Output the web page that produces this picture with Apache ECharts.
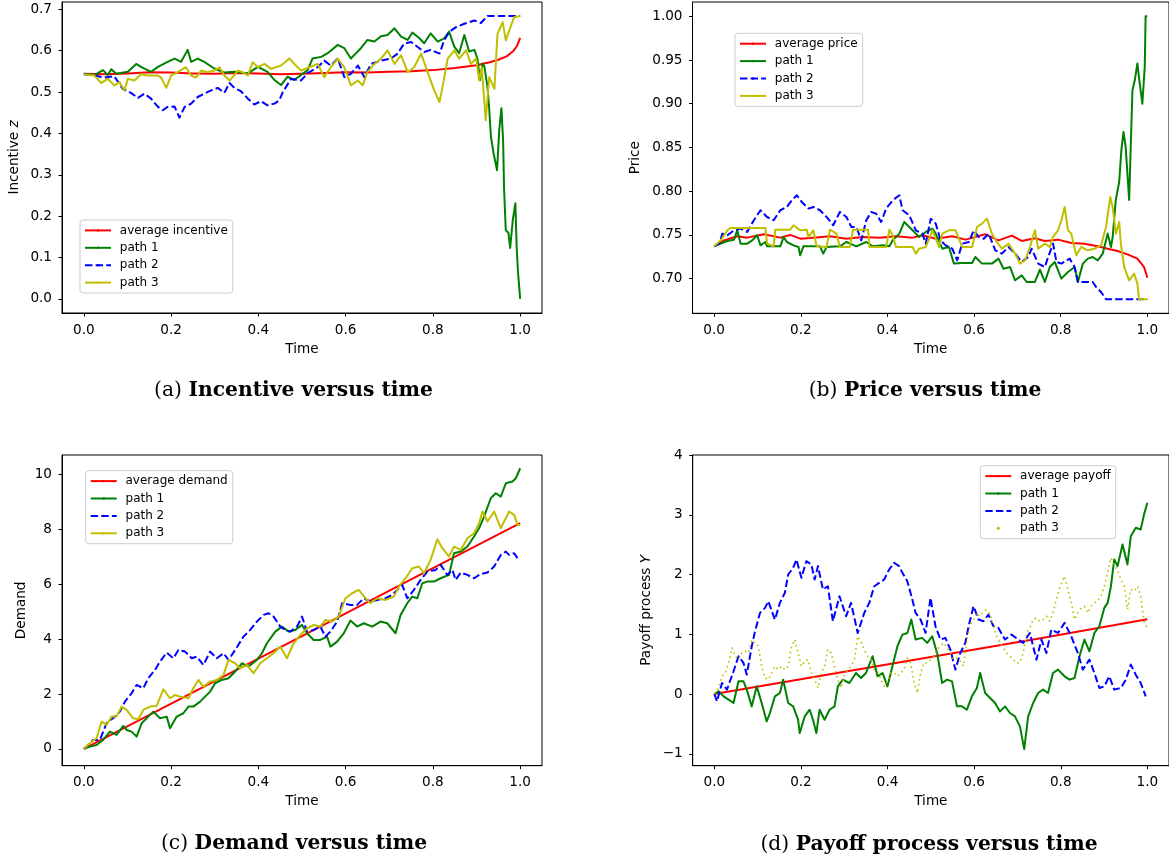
<!DOCTYPE html>
<html><head><meta charset="utf-8">
<script src="https://cdn.jsdelivr.net/npm/echarts@6.0.0/dist/echarts.min.js"></script>
<style>html,body{margin:0;padding:0;background:#fff}#chart{width:1169px;height:860px}</style>
</head><body><div id="chart"></div>
<script>
// ---------- tick labels ----------
const xTicks = [0, 0.2, 0.4, 0.6, 0.8, 1.0];
const yTicksA = [0, 0.1, 0.2, 0.3, 0.4, 0.5, 0.6, 0.7];
const yTicksB = [0.70, 0.75, 0.80, 0.85, 0.90, 0.95, 1.00];
const yTicksC = [0, 2, 4, 6, 8, 10];
const yTicksD = [-1, 0, 1, 2, 3, 4];

// ---------- legend labels / captions ----------
const labelsA = ['average incentive', 'path 1', 'path 2', 'path 3'];
const labelsB = ['average price', 'path 1', 'path 2', 'path 3'];
const labelsC = ['average demand', 'path 1', 'path 2', 'path 3'];
const labelsD = ['average payoff', 'path 1', 'path 2', 'path 3'];
const captionTags = ['(a)', '(b)', '(c)', '(d)'];
const captionTexts = ['Incentive versus time', 'Price versus time', 'Demand versus time', 'Payoff process versus time'];

// ---------- (a) incentive ----------
const tA0 = [0, 0.05, 0.1, 0.15, 0.2, 0.25, 0.3, 0.35, 0.4, 0.45, 0.5, 0.55, 0.6, 0.65, 0.7, 0.75, 0.8, 0.85, 0.9, 0.93, 0.95, 0.97, 0.985, 0.993, 1.0];
const vA0 = [0.544, 0.543, 0.545, 0.548, 0.547, 0.545, 0.544, 0.546, 0.545, 0.543, 0.544, 0.546, 0.548, 0.547, 0.549, 0.550, 0.553, 0.558, 0.565, 0.572, 0.578, 0.587, 0.600, 0.612, 0.631];
const tA1 = [0, 0.024, 0.044, 0.055, 0.063, 0.074, 0.101, 0.120, 0.131, 0.154, 0.170, 0.192, 0.208, 0.223, 0.238, 0.246, 0.261, 0.276, 0.299, 0.322, 0.345, 0.376, 0.399, 0.421, 0.437, 0.452, 0.467, 0.482, 0.513, 0.524, 0.544, 0.559, 0.582, 0.597, 0.612, 0.624, 0.635, 0.650, 0.666, 0.681, 0.696, 0.712, 0.727, 0.742, 0.753, 0.769, 0.780, 0.795, 0.811, 0.826, 0.837, 0.849, 0.860, 0.872, 0.883, 0.895, 0.902, 0.908, 0.914, 0.918, 0.925, 0.929, 0.933, 0.939, 0.947, 0.952, 0.957, 0.961, 0.963, 0.967, 0.973, 0.977, 0.983, 0.989, 0.992, 0.995, 1.0];
const vA1 = [0.544, 0.541, 0.553, 0.541, 0.555, 0.544, 0.549, 0.568, 0.561, 0.549, 0.561, 0.573, 0.581, 0.573, 0.602, 0.573, 0.581, 0.573, 0.557, 0.547, 0.549, 0.545, 0.561, 0.549, 0.529, 0.517, 0.537, 0.529, 0.553, 0.581, 0.585, 0.594, 0.614, 0.606, 0.581, 0.594, 0.606, 0.626, 0.622, 0.635, 0.638, 0.654, 0.634, 0.626, 0.644, 0.630, 0.618, 0.642, 0.622, 0.630, 0.646, 0.610, 0.594, 0.638, 0.598, 0.602, 0.581, 0.529, 0.569, 0.561, 0.513, 0.460, 0.392, 0.352, 0.311, 0.408, 0.461, 0.380, 0.268, 0.166, 0.160, 0.123, 0.190, 0.231, 0.123, 0.065, 0.0];
const tA2 = [0, 0.024, 0.047, 0.070, 0.089, 0.108, 0.124, 0.139, 0.154, 0.170, 0.181, 0.192, 0.208, 0.219, 0.231, 0.246, 0.261, 0.276, 0.292, 0.307, 0.322, 0.334, 0.345, 0.360, 0.376, 0.391, 0.406, 0.421, 0.437, 0.448, 0.456, 0.475, 0.498, 0.513, 0.536, 0.551, 0.566, 0.582, 0.597, 0.612, 0.628, 0.643, 0.658, 0.681, 0.704, 0.719, 0.734, 0.750, 0.765, 0.780, 0.795, 0.815, 0.826, 0.837, 0.853, 0.872, 0.895, 0.910, 0.925, 1.0];
const vA2 = [0.543, 0.540, 0.535, 0.538, 0.508, 0.498, 0.486, 0.496, 0.484, 0.464, 0.456, 0.464, 0.465, 0.438, 0.464, 0.472, 0.488, 0.496, 0.504, 0.510, 0.498, 0.522, 0.510, 0.502, 0.484, 0.470, 0.478, 0.468, 0.472, 0.480, 0.500, 0.532, 0.528, 0.546, 0.560, 0.576, 0.564, 0.581, 0.536, 0.544, 0.564, 0.536, 0.568, 0.576, 0.581, 0.593, 0.617, 0.621, 0.609, 0.597, 0.602, 0.593, 0.625, 0.645, 0.657, 0.665, 0.673, 0.667, 0.684, 0.684];
const tA3 = [0, 0.024, 0.040, 0.055, 0.070, 0.082, 0.093, 0.101, 0.116, 0.131, 0.147, 0.170, 0.177, 0.189, 0.200, 0.215, 0.234, 0.246, 0.257, 0.269, 0.284, 0.299, 0.311, 0.322, 0.334, 0.341, 0.353, 0.364, 0.376, 0.387, 0.399, 0.414, 0.429, 0.452, 0.471, 0.486, 0.498, 0.517, 0.536, 0.551, 0.566, 0.582, 0.597, 0.612, 0.628, 0.639, 0.650, 0.666, 0.681, 0.696, 0.712, 0.727, 0.742, 0.757, 0.773, 0.788, 0.803, 0.815, 0.822, 0.834, 0.849, 0.860, 0.876, 0.887, 0.899, 0.906, 0.912, 0.921, 0.929, 0.941, 0.948, 0.960, 0.967, 0.979, 0.986, 1.0];
const vA3 = [0.543, 0.540, 0.522, 0.532, 0.516, 0.524, 0.504, 0.532, 0.528, 0.543, 0.540, 0.540, 0.535, 0.510, 0.540, 0.548, 0.560, 0.540, 0.535, 0.552, 0.548, 0.552, 0.560, 0.540, 0.528, 0.536, 0.552, 0.548, 0.540, 0.572, 0.560, 0.568, 0.556, 0.564, 0.581, 0.564, 0.552, 0.560, 0.568, 0.536, 0.560, 0.581, 0.560, 0.516, 0.528, 0.516, 0.548, 0.568, 0.581, 0.601, 0.568, 0.589, 0.548, 0.560, 0.593, 0.548, 0.504, 0.476, 0.512, 0.581, 0.601, 0.581, 0.601, 0.568, 0.581, 0.528, 0.560, 0.432, 0.536, 0.508, 0.641, 0.669, 0.625, 0.661, 0.681, 0.684];

// ---------- (b) price ----------
const tB0 = [0, 0.0229, 0.0534, 0.0763, 0.1145, 0.1527, 0.1756, 0.1985, 0.229, 0.2672, 0.3053, 0.3435, 0.3817, 0.4198, 0.458, 0.4809, 0.5115, 0.5496, 0.5802, 0.626, 0.6565, 0.687, 0.71, 0.7405, 0.7634, 0.7939, 0.8244, 0.855, 0.8855, 0.9084, 0.9313, 0.9542, 0.9771, 0.9924, 1.0];
const vB0 = [0.737, 0.7438, 0.7484, 0.7469, 0.7507, 0.7469, 0.750, 0.7457, 0.7469, 0.7484, 0.7457, 0.7477, 0.7469, 0.7484, 0.7469, 0.7496, 0.7457, 0.7484, 0.7446, 0.7507, 0.7438, 0.7492, 0.7431, 0.7461, 0.7431, 0.7446, 0.7408, 0.740, 0.737, 0.7343, 0.7316, 0.7278, 0.7229, 0.7133, 0.7011];
const tB1 = [0, 0.0153, 0.0305, 0.0458, 0.0534, 0.0611, 0.0763, 0.0878, 0.0992, 0.1069, 0.1183, 0.1221, 0.1527, 0.1603, 0.1679, 0.1832, 0.1947, 0.1985, 0.2061, 0.2443, 0.2519, 0.2595, 0.2901, 0.3053, 0.3282, 0.3511, 0.3664, 0.3893, 0.4046, 0.4122, 0.4275, 0.4389, 0.4504, 0.458, 0.4733, 0.4885, 0.5038, 0.5115, 0.5267, 0.542, 0.5534, 0.5725, 0.5954, 0.603, 0.6183, 0.6412, 0.6565, 0.6679, 0.6832, 0.6947, 0.71, 0.7214, 0.7405, 0.7519, 0.7634, 0.7748, 0.7863, 0.8015, 0.8168, 0.8321, 0.8397, 0.8511, 0.8626, 0.874, 0.8855, 0.897, 0.9084, 0.916, 0.920, 0.927, 0.935, 0.940, 0.945, 0.950, 0.954, 0.958, 0.9656, 0.971, 0.977, 0.982, 0.9885, 0.994, 0.996, 1.0];
const vB1 = [0.737, 0.740, 0.7431, 0.7446, 0.7553, 0.740, 0.740, 0.7438, 0.7496, 0.7381, 0.7419, 0.737, 0.737, 0.7477, 0.7419, 0.7381, 0.7362, 0.7267, 0.737, 0.737, 0.7286, 0.7362, 0.737, 0.7419, 0.737, 0.7419, 0.737, 0.7381, 0.737, 0.7438, 0.7515, 0.7648, 0.7591, 0.7553, 0.7477, 0.7534, 0.7572, 0.7515, 0.7343, 0.7362, 0.7172, 0.7179, 0.7179, 0.7248, 0.7172, 0.7172, 0.7229, 0.7114, 0.7133, 0.6981, 0.7038, 0.6962, 0.6962, 0.7103, 0.6962, 0.7133, 0.7191, 0.700, 0.7076, 0.7133, 0.6962, 0.7172, 0.7229, 0.7248, 0.721, 0.7286, 0.7515, 0.7362, 0.7476, 0.7895, 0.8105, 0.8467, 0.8677, 0.8506, 0.820, 0.790, 0.9153, 0.9268, 0.946, 0.925, 0.900, 0.942, 1.0, 1.0];
const tB2 = [0, 0.0115, 0.0191, 0.0305, 0.0458, 0.0611, 0.0763, 0.0916, 0.1069, 0.1221, 0.1374, 0.1527, 0.1679, 0.1794, 0.1908, 0.2023, 0.2176, 0.229, 0.2443, 0.2595, 0.2748, 0.2901, 0.3053, 0.3168, 0.3282, 0.3397, 0.3511, 0.3626, 0.374, 0.3855, 0.3969, 0.4122, 0.4275, 0.4351, 0.4504, 0.4656, 0.4809, 0.4885, 0.5, 0.5115, 0.5229, 0.5344, 0.5496, 0.5611, 0.5725, 0.5878, 0.5992, 0.6107, 0.6221, 0.6336, 0.6489, 0.6641, 0.6794, 0.6947, 0.71, 0.7252, 0.7328, 0.7481, 0.7634, 0.771, 0.7824, 0.7901, 0.8015, 0.8206, 0.8321, 0.8397, 0.874, 0.8817, 0.8931, 0.9046, 1.0];
const vB2 = [0.737, 0.740, 0.7515, 0.7496, 0.7553, 0.7572, 0.7534, 0.7667, 0.7782, 0.7705, 0.7667, 0.7782, 0.782, 0.7896, 0.7953, 0.7877, 0.7801, 0.782, 0.7782, 0.7705, 0.761, 0.7762, 0.7705, 0.7591, 0.7591, 0.7438, 0.7667, 0.7762, 0.7743, 0.7648, 0.7801, 0.7896, 0.7953, 0.7782, 0.7724, 0.7553, 0.7515, 0.740, 0.7686, 0.7629, 0.7438, 0.7381, 0.7343, 0.721, 0.740, 0.7419, 0.7553, 0.7477, 0.7457, 0.7515, 0.7324, 0.7286, 0.7362, 0.7286, 0.7191, 0.7248, 0.7343, 0.7172, 0.7133, 0.7248, 0.740, 0.7191, 0.7172, 0.7229, 0.7133, 0.6962, 0.6962, 0.6905, 0.6848, 0.6764, 0.6764];
const tB3 = [0, 0.0153, 0.0305, 0.0382, 0.1183, 0.1221, 0.1374, 0.1412, 0.1756, 0.1832, 0.1985, 0.2137, 0.2176, 0.229, 0.2366, 0.2595, 0.2672, 0.2824, 0.2901, 0.313, 0.3206, 0.355, 0.3588, 0.3969, 0.4046, 0.4122, 0.4198, 0.458, 0.4656, 0.4733, 0.4885, 0.5038, 0.5191, 0.5267, 0.542, 0.5573, 0.5725, 0.5954, 0.6069, 0.6183, 0.6298, 0.6412, 0.6527, 0.6641, 0.6794, 0.6947, 0.7061, 0.7176, 0.729, 0.7405, 0.7481, 0.7634, 0.7748, 0.7824, 0.7939, 0.8015, 0.8092, 0.8168, 0.8244, 0.8359, 0.8473, 0.8626, 0.8779, 0.8931, 0.9046, 0.9145, 0.9198, 0.9275, 0.9351, 0.9389, 0.9466, 0.958, 0.9695, 0.9771, 0.9809, 1.0];
const vB3 = [0.737, 0.7438, 0.7553, 0.758, 0.758, 0.740, 0.737, 0.756, 0.756, 0.761, 0.7553, 0.756, 0.7477, 0.7553, 0.737, 0.7362, 0.756, 0.7515, 0.7362, 0.7362, 0.756, 0.756, 0.7362, 0.7362, 0.756, 0.7496, 0.7362, 0.7362, 0.7286, 0.7343, 0.7362, 0.7553, 0.7362, 0.7515, 0.7553, 0.7553, 0.7362, 0.7362, 0.7591, 0.7629, 0.7686, 0.7515, 0.7419, 0.7343, 0.740, 0.7286, 0.7172, 0.721, 0.7362, 0.7553, 0.7343, 0.740, 0.7362, 0.7477, 0.7553, 0.7667, 0.782, 0.7553, 0.7515, 0.7267, 0.7362, 0.7324, 0.7343, 0.7381, 0.7591, 0.7934, 0.782, 0.7515, 0.7648, 0.740, 0.7133, 0.6981, 0.7057, 0.6943, 0.6764, 0.6764];

// ---------- (c) demand ----------
const tC0 = [0, 0.25, 0.5, 0.75, 1.0];
const vC0 = [0, 2.06, 4.11, 6.17, 8.22];
const tC1 = [0, 0.0138, 0.0291, 0.0444, 0.0597, 0.075, 0.0904, 0.098, 0.1095, 0.121, 0.1325, 0.1478, 0.1593, 0.1746, 0.1899, 0.1975, 0.2129, 0.2282, 0.2397, 0.2511, 0.2665, 0.2779, 0.2894, 0.3009, 0.3162, 0.3315, 0.3469, 0.3622, 0.3775, 0.3966, 0.4081, 0.4196, 0.4387, 0.4541, 0.4694, 0.4847, 0.5, 0.5115, 0.5268, 0.5421, 0.5574, 0.5651, 0.5804, 0.5957, 0.611, 0.6263, 0.6417, 0.6608, 0.6799, 0.6953, 0.7144, 0.7259, 0.7412, 0.7527, 0.7642, 0.7757, 0.7871, 0.8025, 0.8178, 0.8369, 0.8484, 0.8637, 0.879, 0.8943, 0.9058, 0.9173, 0.9326, 0.9441, 0.9556, 0.9671, 0.9824, 0.99, 1.0];
const vC1 = [0, 0.085, 0.146, 0.328, 0.631, 0.51, 0.837, 0.692, 0.631, 0.449, 0.934, 1.177, 1.359, 1.117, 1.177, 0.752, 1.177, 1.299, 1.541, 1.541, 1.723, 1.905, 2.087, 2.391, 2.512, 2.573, 2.816, 3.119, 2.998, 3.24, 3.483, 3.847, 4.272, 4.454, 4.272, 4.333, 4.515, 4.211, 3.968, 3.968, 4.09, 3.726, 3.908, 4.211, 4.672, 4.454, 4.575, 4.454, 4.636, 4.575, 4.211, 4.879, 5.303, 5.546, 5.485, 6.032, 6.092, 6.092, 6.214, 6.335, 7.124, 7.184, 7.367, 7.731, 8.034, 8.459, 9.126, 9.308, 9.187, 9.672, 9.733, 9.854, 10.218];
const tC2 = [0, 0.01, 0.0214, 0.0368, 0.0521, 0.0712, 0.0827, 0.0942, 0.1095, 0.121, 0.1363, 0.1478, 0.1631, 0.1746, 0.1899, 0.2052, 0.2167, 0.232, 0.2473, 0.2588, 0.2741, 0.2894, 0.3047, 0.3201, 0.3315, 0.3469, 0.366, 0.3813, 0.3966, 0.412, 0.4234, 0.4349, 0.4502, 0.4617, 0.4732, 0.4885, 0.5, 0.5115, 0.5268, 0.5421, 0.5536, 0.5651, 0.5804, 0.5919, 0.611, 0.6263, 0.6417, 0.657, 0.6723, 0.6914, 0.7067, 0.7182, 0.7297, 0.7412, 0.7565, 0.7718, 0.7871, 0.8063, 0.8178, 0.8331, 0.8446, 0.8522, 0.8637, 0.879, 0.8943, 0.9096, 0.925, 0.9403, 0.9556, 0.9671, 0.9747, 0.9862, 0.9939, 1.0];
const vC2 = [0, 0.146, 0.328, 0.328, 0.934, 1.177, 1.359, 1.723, 2.027, 2.33, 2.209, 2.573, 2.876, 3.18, 3.507, 3.301, 3.604, 3.544, 3.301, 3.362, 3.058, 3.544, 3.301, 3.483, 3.24, 3.604, 4.09, 4.333, 4.636, 4.879, 4.939, 4.818, 4.454, 4.333, 4.272, 4.454, 4.818, 4.272, 4.333, 4.454, 4.09, 4.272, 4.636, 5.303, 5.243, 5.243, 5.485, 5.364, 5.425, 5.485, 5.607, 5.789, 5.971, 5.485, 5.789, 6.153, 6.456, 6.517, 6.699, 6.335, 6.517, 6.153, 6.42, 6.335, 6.214, 6.371, 6.42, 6.638, 7.063, 7.184, 7.063, 7.124, 6.942, 7.002];
const tC3 = [0, 0.0138, 0.0291, 0.0406, 0.0521, 0.0636, 0.075, 0.0865, 0.098, 0.1133, 0.1248, 0.1363, 0.1516, 0.1669, 0.1822, 0.1975, 0.209, 0.2205, 0.2397, 0.2511, 0.2626, 0.2741, 0.2894, 0.3047, 0.3201, 0.3315, 0.3469, 0.3583, 0.3737, 0.389, 0.4043, 0.4196, 0.4349, 0.4502, 0.4655, 0.4809, 0.4962, 0.5115, 0.5268, 0.5421, 0.5536, 0.5689, 0.5842, 0.5995, 0.6149, 0.6302, 0.6455, 0.657, 0.6723, 0.6914, 0.7106, 0.722, 0.7374, 0.7527, 0.768, 0.7795, 0.7948, 0.8101, 0.8216, 0.8369, 0.8484, 0.8637, 0.879, 0.8943, 0.9058, 0.9135, 0.925, 0.9403, 0.9556, 0.9747, 0.9862, 0.9939, 1.0];
const vC3 = [0, 0.206, 0.388, 0.995, 0.874, 1.177, 1.177, 1.541, 1.42, 1.117, 1.08, 1.42, 1.541, 1.566, 2.172, 1.845, 1.966, 1.905, 1.845, 2.209, 2.512, 2.269, 2.451, 2.512, 2.694, 3.24, 3.119, 2.937, 3.058, 2.755, 3.119, 3.301, 3.483, 3.726, 3.301, 3.847, 4.15, 4.393, 4.515, 4.454, 4.697, 4.636, 4.818, 5.485, 5.667, 5.789, 5.485, 5.303, 5.485, 5.425, 5.546, 5.91, 6.214, 6.578, 6.638, 6.396, 6.881, 7.633, 7.306, 7.002, 7.367, 7.245, 7.67, 7.852, 8.216, 8.641, 8.277, 8.641, 8.034, 8.641, 8.519, 8.155, 8.155];

// ---------- (d) payoff ----------
const tD0 = [0, 0.25, 0.5, 0.75, 1.0];
const vD0 = [0, 0.31, 0.62, 0.93, 1.25];
const tD1 = [0, 0.0099, 0.0214, 0.0329, 0.0443, 0.0558, 0.0673, 0.0749, 0.0864, 0.0979, 0.1093, 0.1208, 0.1284, 0.1399, 0.1514, 0.159, 0.1705, 0.182, 0.1934, 0.1972, 0.2087, 0.2202, 0.2278, 0.2355, 0.2431, 0.2546, 0.2661, 0.2775, 0.2852, 0.2966, 0.3119, 0.3272, 0.3387, 0.3502, 0.3654, 0.3769, 0.3884, 0.3998, 0.4113, 0.4228, 0.4343, 0.4457, 0.4549, 0.4648, 0.4801, 0.4916, 0.5031, 0.5145, 0.526, 0.5375, 0.5489, 0.5604, 0.5719, 0.5833, 0.5948, 0.6063, 0.6139, 0.6254, 0.6368, 0.6483, 0.6598, 0.6713, 0.6827, 0.6942, 0.7057, 0.7156, 0.7248, 0.7362, 0.7477, 0.7592, 0.7706, 0.7821, 0.7936, 0.8089, 0.8203, 0.8318, 0.8433, 0.8547, 0.8662, 0.8777, 0.8891, 0.9006, 0.9083, 0.9159, 0.9235, 0.9312, 0.9427, 0.9541, 0.9618, 0.9732, 0.9847, 0.9924, 1.0];
const vD1 = [0, 0.045, -0.039, -0.095, -0.151, 0.212, 0.212, 0.073, -0.207, 0.128, -0.151, -0.458, -0.318, -0.039, 0.017, 0.24, -0.151, -0.207, -0.43, -0.654, -0.374, -0.263, -0.43, -0.654, -0.263, -0.43, -0.263, -0.207, 0.128, 0.24, 0.184, 0.352, 0.268, 0.352, 0.631, 0.296, 0.352, 0.128, 0.464, 0.799, 0.994, 1.022, 1.246, 0.911, 0.939, 0.855, 0.966, 0.687, 0.184, 0.24, 0.212, -0.207, -0.207, -0.263, -0.039, 0.101, 0.352, 0.017, -0.067, -0.151, -0.291, -0.207, -0.318, -0.374, -0.542, -0.922, -0.374, -0.151, 0.017, 0.073, 0.017, 0.352, 0.408, 0.296, 0.24, 0.268, 0.631, 0.911, 0.715, 1.022, 1.134, 1.441, 1.525, 1.804, 2.251, 2.14, 2.503, 2.168, 2.642, 2.782, 2.754, 3.006, 3.201];
const tD2 = [0, 0.0061, 0.0176, 0.0291, 0.0443, 0.0558, 0.0673, 0.0749, 0.0864, 0.094, 0.1055, 0.117, 0.1246, 0.1399, 0.1514, 0.1628, 0.1705, 0.182, 0.1896, 0.2011, 0.2125, 0.224, 0.2317, 0.2393, 0.2508, 0.2622, 0.2737, 0.289, 0.3043, 0.3157, 0.331, 0.3463, 0.3578, 0.3693, 0.3807, 0.3922, 0.4037, 0.4151, 0.4266, 0.4343, 0.4457, 0.4572, 0.4648, 0.4763, 0.4878, 0.4992, 0.5107, 0.5222, 0.5336, 0.5451, 0.5566, 0.568, 0.5795, 0.5872, 0.5986, 0.6101, 0.6216, 0.633, 0.6445, 0.656, 0.6713, 0.6865, 0.7018, 0.7133, 0.7286, 0.7439, 0.7554, 0.7668, 0.7783, 0.7936, 0.8089, 0.8242, 0.8394, 0.8509, 0.8662, 0.8777, 0.8891, 0.9006, 0.9121, 0.9235, 0.9388, 0.9503, 0.9618, 0.9732, 0.9847, 0.9962];
const vD2 = [0, -0.123, 0.184, 0.073, 0.38, 0.631, 0.52, 0.324, 0.799, 1.05, 1.358, 1.441, 1.553, 1.246, 1.525, 1.693, 2.0, 2.112, 2.251, 1.944, 2.223, 2.168, 1.916, 2.14, 1.749, 1.804, 1.218, 1.637, 1.302, 1.525, 1.022, 1.358, 1.525, 1.804, 1.86, 1.916, 2.084, 2.196, 2.14, 2.028, 1.888, 1.581, 1.358, 1.246, 1.022, 1.609, 1.134, 0.911, 0.939, 0.743, 0.408, 0.687, 0.855, 1.134, 1.469, 1.246, 1.218, 1.33, 1.134, 1.106, 0.911, 0.994, 0.911, 0.855, 1.022, 0.575, 0.911, 0.687, 1.078, 1.022, 1.19, 0.966, 0.687, 0.408, 0.575, 0.352, 0.101, 0.128, 0.296, 0.073, 0.101, 0.24, 0.492, 0.324, 0.184, -0.039];
const tD3 = [0, 0.0099, 0.0176, 0.0252, 0.0329, 0.0405, 0.0482, 0.0558, 0.0635, 0.0711,
  0.0787, 0.0864, 0.094, 0.1017, 0.1093, 0.117, 0.1246, 0.1323, 0.1399, 0.1476,
  0.1552, 0.1628, 0.1705, 0.1781, 0.1858, 0.1934, 0.2011, 0.2087, 0.2164, 0.224,
  0.2317, 0.2393, 0.2469, 0.2546, 0.2622, 0.2699, 0.2775, 0.2852, 0.2928, 0.3005,
  0.3081, 0.3157, 0.3234, 0.331, 0.3387, 0.3463, 0.354, 0.3616, 0.3693, 0.3769,
  0.3846, 0.3922, 0.3998, 0.4075, 0.4151, 0.4228, 0.4304, 0.4381, 0.4457, 0.4534,
  0.461, 0.4687, 0.4763, 0.4839, 0.4916, 0.4992, 0.5069, 0.5145, 0.5222, 0.5298,
  0.5375, 0.5451, 0.5528, 0.5604, 0.568, 0.5757, 0.5833, 0.591, 0.5986, 0.6063,
  0.6139, 0.6216, 0.6292, 0.6368, 0.6445, 0.6521, 0.6598, 0.6674, 0.6751, 0.6827,
  0.6904, 0.698, 0.7057, 0.7133, 0.7209, 0.7286, 0.7362, 0.7439, 0.7515, 0.7592,
  0.7668, 0.7745, 0.7821, 0.7897, 0.7974, 0.805, 0.8089, 0.8165, 0.8242, 0.8318,
  0.8394, 0.8471, 0.8547, 0.8624, 0.87, 0.8777, 0.8853, 0.893, 0.9006, 0.9083,
  0.9159, 0.9235, 0.9312, 0.9388, 0.9465, 0.9541, 0.9618, 0.9694, 0.9771, 0.9847,
  0.9924, 1.0];
const vD3 = [0, 0.101, 0.296, 0.352, 0.520, 0.771, 0.631, 0.575, 0.687, 0.715,
  0.687, 0.911, 0.855, 0.799, 0.464, 0.268, 0.240, 0.352, 0.464, 0.408,
  0.464, 0.408, 0.464, 0.799, 0.911, 0.687, 0.464, 0.547, 0.575, 0.352,
  0.240, 0.101, 0.352, 0.464, 0.743, 0.687, 0.464, 0.240, 0.101, 0.324,
  0.408, 0.464, 0.575, 0.966, 0.883, 0.743, 0.631, 0.575, 0.408, 0.380,
  0.240, 0.128, 0.212, 0.352, 0.352, 0.296, 0.352, 0.408, 0.603, 0.520,
  0.184, 0.017, 0.352, 0.520, 0.520, 0.575, 0.631, 0.743, 0.799, 0.855,
  0.771, 0.687, 0.575, 0.603, 0.547, 0.464, 0.911, 1.162, 1.246, 1.358,
  1.302, 1.385, 1.413, 1.330, 1.134, 0.966, 0.855, 0.771, 0.687, 0.631,
  0.575, 0.520, 0.520, 0.687, 1.022, 1.106, 1.246, 1.274, 1.218, 1.246,
  1.302, 1.218, 1.358, 1.581, 1.777, 1.916, 1.972, 1.749, 1.525, 1.246,
  1.358, 1.441, 1.469, 1.358, 1.469, 1.525, 1.553, 1.637, 1.804, 2.028,
  2.279, 2.140, 2.084, 1.916, 1.804, 1.413, 1.749, 1.721, 1.804, 1.637,
  1.218, 1.106];

// ---------- layout / styling ----------
const FONT = 'DejaVu Sans';
const SERIF = 'DejaVu Serif';
const pairs = (t, v) => t.map((x, i) => [x, v[i]]);
const minus = s => s.replace('-', '\u2212');

const panels = [
  { id: 'a', grid: { left: 62, top: 2, width: 480, height: 311 }, yMin: -0.0342, yMax: 0.7177, yTicks: yTicksA, dec: 1,
    yName: 'Incentive {i|z}', yGap: 40.5, legend: { left: 80, top: 220 }, cap: { x: 293.5, y: 391 }, labels: labelsA,
    data: [[tA0, vA0], [tA1, vA1], [tA2, vA2], [tA3, vA3]] },
  { id: 'b', grid: { left: 692.5, top: 2, width: 480, height: 311.3 }, yMin: 0.6604, yMax: 1.0163, yTicks: yTicksB, dec: 2,
    yName: 'Price', yGap: 50, legend: { left: 735, top: 33.3 }, cap: { x: 925, y: 391 }, labels: labelsB,
    data: [[tB0, vB0], [tB1, vB1], [tB2, vB2], [tB3, vB3]] },
  { id: 'c', grid: { left: 62, top: 455, width: 480, height: 310.7 }, yMin: -0.61, yMax: 10.70, yTicks: yTicksC, dec: 0,
    yName: 'Demand', yGap: 33.5, legend: { left: 85.7, top: 470.7 }, cap: { x: 294, y: 844 }, labels: labelsC,
    data: [[tC0, vC0], [tC1, vC1], [tC2, vC2], [tC3, vC3]] },
  { id: 'd', grid: { left: 692.7, top: 455, width: 480, height: 310.7 }, yMin: -1.2, yMax: 4, yTicks: yTicksD, dec: 0,
    yName: 'Payoff process {i|Y}', yGap: 39.5, legend: { left: 980.3, top: 465.7 }, cap: { x: 929, y: 845 }, labels: labelsD,
    data: [[tD0, vD0], [tD1, vD1], [tD2, vD2], [tD3, vD3]] }
];

const baseLine = [
  { color: '#ff0000', type: 'solid', width: 2 },
  { color: '#008000', type: 'solid', width: 2 },
  { color: '#0000ff', type: [7.4, 3.2], width: 2 },
  { color: '#bfbf00', type: 'solid', width: 2 }
];
const dottedLine = { color: '#bfbf00', type: [1.6, 3.4], width: 1.6, cap: 'butt' };

const grids = [], xAxes = [], yAxes = [], series = [], legends = [], graphics = [];
const txt = { color: '#000', fontFamily: FONT, fontSize: 13.6 };

panels.forEach((p, i) => {
  grids.push(Object.assign({ show: true, borderColor: '#000', borderWidth: 1, backgroundColor: 'transparent', containLabel: false }, p.grid));
  xAxes.push({
    type: 'value', gridIndex: i, min: -0.05, max: 1.05,
    axisLine: { show: true, onZero: false, lineStyle: { color: '#000', width: 1 } },
    axisTick: { show: true, inside: false, length: 3.5, customValues: xTicks, lineStyle: { color: '#000', width: 1 } },
    axisLabel: Object.assign({ customValues: xTicks, margin: 10, formatter: v => v.toFixed(1) }, txt),
    splitLine: { show: false },
    name: 'Time', nameLocation: 'middle', nameGap: 29, nameTextStyle: txt
  });
  yAxes.push({
    type: 'value', gridIndex: i, min: p.yMin, max: p.yMax,
    axisLine: { show: true, onZero: false, lineStyle: { color: '#000', width: 1 } },
    axisTick: { show: true, inside: false, length: 3.5, customValues: p.yTicks, lineStyle: { color: '#000', width: 1 } },
    axisLabel: Object.assign({ customValues: p.yTicks, margin: 10, formatter: v => minus(p.dec ? v.toFixed(p.dec) : String(Math.round(v))) }, txt),
    splitLine: { show: false },
    name: p.yName, nameLocation: 'middle', nameGap: p.yGap,
    nameTextStyle: Object.assign({ rich: { i: Object.assign({ fontStyle: 'italic' }, txt) } }, txt)
  });
  const legendData = [];
  p.data.forEach((d, k) => {
    const name = p.id + '|' + p.labels[k];
    const ls = (p.id === 'd' && k === 3) ? dottedLine : baseLine[k];
    series.push({
      type: 'line', name: name, xAxisIndex: i, yAxisIndex: i,
      data: pairs(d[0], d[1]), symbol: 'none', showSymbol: false,
      lineStyle: Object.assign({ join: 'round' }, ls), itemStyle: { color: ls.color },
      emphasis: { disabled: true }, animation: false, z: 2 + k
    });
    legendData.push((p.id === 'd' && k === 3) ? { name: name, icon: 'circle' } : { name: name });
  });
  legends.push({
    data: legendData, orient: 'vertical', left: p.legend.left, top: p.legend.top,
    itemWidth: 26, itemHeight: 3, itemGap: 3.4, padding: [3.4, 5, 3.4, 4],
    backgroundColor: 'rgba(255,255,255,0.8)', borderColor: '#cccccc', borderWidth: 1, borderRadius: 3,
    textStyle: { color: '#000', fontFamily: FONT, fontSize: 12, lineHeight: 14 },
    formatter: n => ' ' + n.split('|')[1], selectedMode: false
  });
  graphics.push({
    type: 'text', x: p.cap.x, y: p.cap.y, silent: true,
    style: {
      text: '{n|' + captionTags[i] + '} {b|' + captionTexts[i] + '}',
      align: 'center', verticalAlign: 'middle',
      rich: {
        n: { fontFamily: SERIF, fontSize: 20.3, fill: '#000' },
        b: { fontFamily: SERIF, fontSize: 20.3, fontWeight: 'bold', fill: '#000' }
      },
      fontFamily: SERIF, fontSize: 20.3, fill: '#000'
    }
  });
});

const chart = echarts.init(document.getElementById('chart'), null, { renderer: 'canvas', width: 1169, height: 860 });
chart.setOption({
  animation: false, backgroundColor: '#ffffff',
  grid: grids, xAxis: xAxes, yAxis: yAxes, series: series, legend: legends, graphic: graphics
});
</script>
</body></html>
